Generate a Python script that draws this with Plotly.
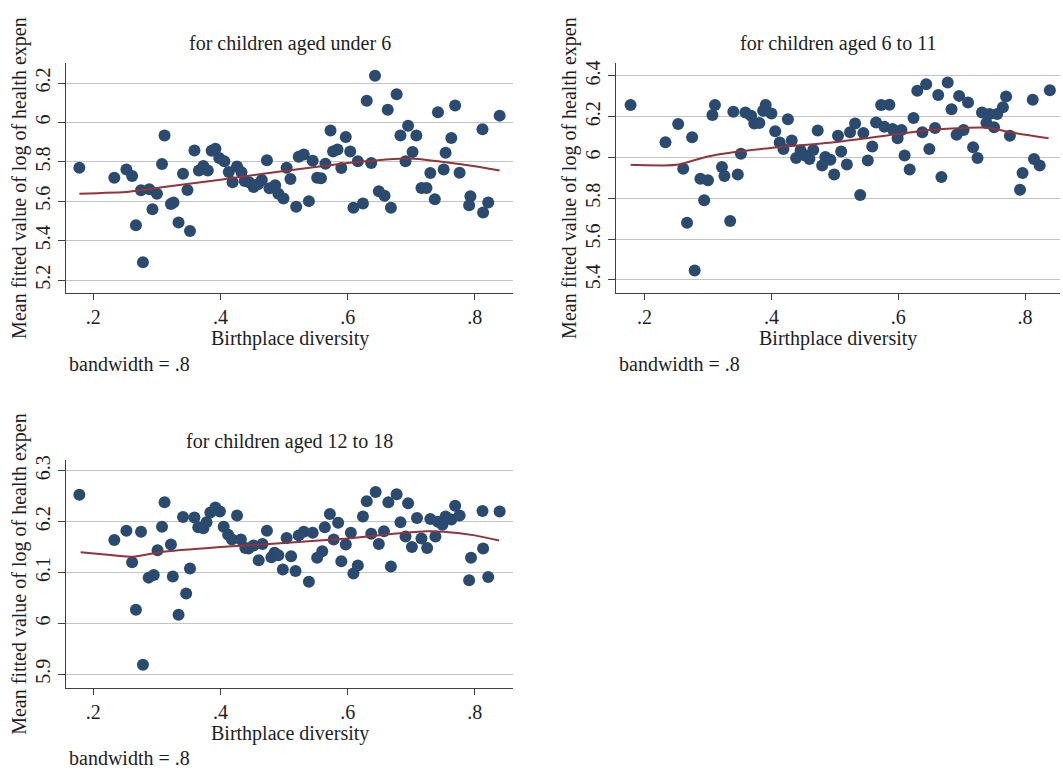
import plotly.graph_objects as go

# ---------------- data ----------------
x_under6 = [0.178, 0.233, 0.252, 0.261, 0.267, 0.275, 0.288, 0.278, 0.293, 0.300,
            0.308, 0.312, 0.322, 0.326, 0.334, 0.341, 0.348, 0.352, 0.359, 0.366,
            0.373, 0.380, 0.386, 0.392, 0.398, 0.406, 0.413, 0.419, 0.426, 0.433,
            0.438, 0.445, 0.452, 0.459, 0.465, 0.473, 0.477, 0.486, 0.491, 0.499,
            0.504, 0.510, 0.519, 0.523, 0.531, 0.539, 0.545, 0.552, 0.558, 0.565,
            0.573, 0.577, 0.584, 0.590, 0.597, 0.604, 0.609, 0.616, 0.624, 0.630,
            0.637, 0.643, 0.649, 0.658, 0.663, 0.668, 0.677, 0.683, 0.691, 0.695,
            0.702, 0.708, 0.716, 0.724, 0.730, 0.737, 0.742, 0.751, 0.754, 0.763,
            0.769, 0.776, 0.793, 0.791, 0.812, 0.813, 0.821, 0.839]
y_under6 = [5.771, 5.720, 5.762, 5.729, 5.479, 5.656, 5.661, 5.291, 5.560, 5.639,
            5.789, 5.934, 5.586, 5.594, 5.493, 5.740, 5.658, 5.449, 5.858, 5.757,
            5.779, 5.756, 5.857, 5.867, 5.820, 5.804, 5.749, 5.697, 5.777, 5.747,
            5.703, 5.697, 5.673, 5.687, 5.708, 5.808, 5.666, 5.681, 5.639, 5.614,
            5.771, 5.713, 5.572, 5.826, 5.838, 5.601, 5.806, 5.720, 5.717, 5.791,
            5.959, 5.853, 5.863, 5.769, 5.927, 5.853, 5.567, 5.803, 5.589, 6.111,
            5.794, 6.237, 5.651, 5.628, 6.065, 5.567, 6.143, 5.934, 5.803, 5.983,
            5.850, 5.934, 5.668, 5.668, 5.744, 5.611, 6.052, 5.762, 5.846, 5.921,
            6.086, 5.745, 5.626, 5.580, 5.966, 5.543, 5.594, 6.035]
lx_under6 = [0.178, 0.256, 0.305, 0.400, 0.500, 0.600, 0.672, 0.704, 0.751, 0.800, 0.839]
ly_under6 = [5.639, 5.649, 5.670, 5.710, 5.754, 5.794, 5.815, 5.816, 5.800, 5.778, 5.757]

x_6to11 = [0.178, 0.233, 0.253, 0.261, 0.275, 0.267, 0.279, 0.288, 0.300, 0.294,
           0.307, 0.311, 0.322, 0.326, 0.335, 0.340, 0.347, 0.352, 0.359, 0.368,
           0.373, 0.381, 0.387, 0.391, 0.400, 0.406, 0.413, 0.419, 0.426, 0.432,
           0.439, 0.446, 0.453, 0.460, 0.466, 0.473, 0.480, 0.485, 0.493, 0.499,
           0.505, 0.510, 0.519, 0.524, 0.532, 0.540, 0.545, 0.552, 0.559, 0.565,
           0.573, 0.578, 0.586, 0.591, 0.599, 0.605, 0.610, 0.618, 0.624, 0.630,
           0.638, 0.644, 0.649, 0.658, 0.663, 0.668, 0.678, 0.684, 0.692, 0.696,
           0.703, 0.710, 0.718, 0.725, 0.732, 0.739, 0.744, 0.751, 0.756, 0.765,
           0.770, 0.776, 0.792, 0.796, 0.812, 0.814, 0.823, 0.839]
y_6to11 = [6.257, 6.075, 6.164, 5.945, 6.099, 5.680, 5.446, 5.896, 5.888, 5.790,
           6.208, 6.257, 5.953, 5.909, 5.689, 6.224, 5.917, 6.018, 6.221, 6.205,
           6.167, 6.169, 6.229, 6.257, 6.216, 6.128, 6.073, 6.042, 6.187, 6.083,
           5.997, 6.034, 6.010, 5.993, 6.037, 6.132, 5.961, 6.002, 5.989, 5.917,
           6.107, 6.029, 5.966, 6.124, 6.167, 5.816, 6.120, 5.985, 6.054, 6.172,
           6.257, 6.151, 6.259, 6.140, 6.094, 6.135, 6.010, 5.941, 6.193, 6.327,
           6.124, 6.359, 6.042, 6.145, 6.306, 5.904, 6.367, 6.237, 6.111, 6.302,
           6.135, 6.270, 6.050, 5.998, 6.221, 6.169, 6.213, 6.148, 6.213, 6.246,
           6.299, 6.107, 5.842, 5.924, 6.283, 5.993, 5.961, 6.330]
lx_6to11 = [0.178, 0.230, 0.254, 0.298, 0.340, 0.400, 0.499, 0.600, 0.650, 0.703, 0.745, 0.776, 0.837]
ly_6to11 = [5.964, 5.961, 5.966, 6.004, 6.026, 6.047, 6.075, 6.115, 6.135, 6.145, 6.145, 6.124, 6.094]

x_12to18 = [0.178, 0.233, 0.252, 0.275, 0.261, 0.267, 0.278, 0.287, 0.295, 0.301,
            0.308, 0.312, 0.322, 0.325, 0.334, 0.341, 0.346, 0.352, 0.359, 0.365,
            0.373, 0.378, 0.384, 0.392, 0.399, 0.405, 0.412, 0.418, 0.426, 0.432,
            0.439, 0.444, 0.452, 0.460, 0.466, 0.473, 0.480, 0.485, 0.491, 0.498,
            0.504, 0.511, 0.518, 0.523, 0.531, 0.539, 0.545, 0.552, 0.560, 0.564,
            0.572, 0.578, 0.585, 0.590, 0.597, 0.605, 0.609, 0.616, 0.624, 0.630,
            0.637, 0.644, 0.649, 0.657, 0.664, 0.668, 0.677, 0.683, 0.691, 0.695,
            0.701, 0.709, 0.716, 0.725, 0.730, 0.738, 0.742, 0.749, 0.754, 0.763,
            0.769, 0.776, 0.791, 0.794, 0.812, 0.813, 0.821, 0.839]
y_12to18 = [6.253, 6.164, 6.182, 6.180, 6.120, 6.027, 5.919, 6.090, 6.095, 6.144,
            6.190, 6.238, 6.155, 6.092, 6.017, 6.209, 6.059, 6.108, 6.208, 6.189,
            6.187, 6.199, 6.218, 6.228, 6.220, 6.190, 6.174, 6.165, 6.212, 6.165,
            6.148, 6.147, 6.153, 6.124, 6.156, 6.182, 6.130, 6.139, 6.134, 6.106,
            6.168, 6.132, 6.103, 6.173, 6.180, 6.082, 6.178, 6.129, 6.142, 6.189,
            6.215, 6.165, 6.198, 6.122, 6.155, 6.178, 6.098, 6.114, 6.210, 6.240,
            6.176, 6.258, 6.156, 6.181, 6.238, 6.112, 6.254, 6.199, 6.171, 6.236,
            6.150, 6.207, 6.167, 6.148, 6.205, 6.171, 6.200, 6.194, 6.210, 6.204,
            6.231, 6.212, 6.085, 6.129, 6.221, 6.147, 6.091, 6.220]
lx_12to18 = [0.180, 0.231, 0.263, 0.305, 0.400, 0.500, 0.600, 0.672, 0.725, 0.751, 0.800, 0.838]
ly_12to18 = [6.140, 6.134, 6.131, 6.140, 6.150, 6.158, 6.167, 6.176, 6.181, 6.180, 6.173, 6.163]

titles = ["for children aged under 6", "for children aged 6 to 11", "for children aged 12 to 18"]
x_ticks = [0.2, 0.4, 0.6, 0.8]
x_ticklabels = [".2", ".4", ".6", ".8"]
y_ticks_under6 = [5.2, 5.4, 5.6, 5.8, 6.0, 6.2]
y_ticklabels_under6 = ["5.2", "5.4", "5.6", "5.8", "6", "6.2"]
y_ticks_6to11 = [5.4, 5.6, 5.8, 6.0, 6.2, 6.4]
y_ticklabels_6to11 = ["5.4", "5.6", "5.8", "6", "6.2", "6.4"]
y_ticks_12to18 = [5.9, 6.0, 6.1, 6.2, 6.3]
y_ticklabels_12to18 = ["5.9", "6", "6.1", "6.2", "6.3"]
x_title = "Birthplace diversity"
y_title = "Mean fitted value of log of health expen"
note = "bandwidth = .8"

# ---------------- styling / layout ----------------
W, H = 1063, 775
FONT = "Liberation Serif, Times New Roman, serif"
TXT = "#1e1e1e"
NAVY = "#2a4a6f"
MAROON = "#90353b"

# pixel boxes: (left, right, top, bottom)
boxes = [(66, 513, 58, 290), (616, 1060, 58, 290), (66, 513, 458, 687)]
xranges = [(0.157, 0.860), (0.155, 0.855), (0.157, 0.860)]
yranges = [(5.134, 6.304), (5.335, 6.465), (5.874, 6.321)]
yticks = [(y_ticks_under6, y_ticklabels_under6),
          (y_ticks_6to11, y_ticklabels_6to11),
          (y_ticks_12to18, y_ticklabels_12to18)]
series = [(x_under6, y_under6, lx_under6, ly_under6),
          (x_6to11, y_6to11, lx_6to11, ly_6to11),
          (x_12to18, y_12to18, lx_12to18, ly_12to18)]

fig = go.Figure()
annotations = []
layout_axes = {}

for i, (box, xr, yr, (yt, ytl), (sx, sy, lx, ly)) in enumerate(
        zip(boxes, xranges, yranges, yticks, series)):
    n = "" if i == 0 else str(i + 1)
    L, R, T, B = box
    fig.add_trace(go.Scatter(x=sx, y=sy, mode="markers",
                             marker=dict(color=NAVY, size=12, line=dict(width=0)),
                             xaxis="x" + n, yaxis="y" + n, showlegend=False,
                             hoverinfo="x+y"))
    fig.add_trace(go.Scatter(x=lx, y=ly, mode="lines",
                             line=dict(color=MAROON, width=2, shape="spline", smoothing=0.6),
                             xaxis="x" + n, yaxis="y" + n, showlegend=False))
    layout_axes["xaxis" + n] = dict(
        domain=[L / W, R / W], range=list(xr), anchor="y" + n,
        tickvals=x_ticks, ticktext=x_ticklabels, ticks="outside", ticklen=6,
        tickcolor="#404040", showline=True, linecolor="#404040", linewidth=1,
        showgrid=False, zeroline=False, tickfont=dict(family=FONT, size=20, color=TXT),
        fixedrange=True)
    layout_axes["yaxis" + n] = dict(
        domain=[1 - B / H, 1 - T / H], range=list(yr), anchor="x" + n,
        tickvals=yt, ticktext=ytl, ticks="outside", ticklen=7, tickangle=-90,
        tickcolor="#404040", showline=True, linecolor="#404040", linewidth=1,
        showgrid=True, gridcolor="#c4c4c4", gridwidth=1, zeroline=False,
        tickfont=dict(family=FONT, size=20, color=TXT), fixedrange=True)
    cx = (L + R) / 2
    f = dict(family=FONT, size=20, color=TXT)
    annotations += [
        dict(text=titles[i], x=cx / W, y=1 - (T - 19) / H, xref="paper", yref="paper",
             xanchor="center", yanchor="middle", showarrow=False, font=f),
        dict(text=x_title, x=cx / W, y=1 - (B + 46) / H, xref="paper", yref="paper",
             xanchor="center", yanchor="middle", showarrow=False, font=f),
        dict(text=note, x=(L + 1) / W, y=1 - (B + 71) / H, xref="paper", yref="paper",
             xanchor="left", yanchor="middle", showarrow=False, font=f),
        dict(text=y_title, x=(L - 46) / W, y=1 - ((T + B) / 2) / H, xref="paper", yref="paper",
             xanchor="center", yanchor="middle", textangle=-90, showarrow=False, font=f),
    ]

fig.update_layout(width=W, height=H, margin=dict(l=0, r=0, t=0, b=0),
                  paper_bgcolor="white", plot_bgcolor="white",
                  annotations=annotations, **layout_axes)

fig.write_html("out.html", config={"displayModeBar": False},
               post_script="document.body.style.margin='0';document.body.style.padding='0';"
                           "document.documentElement.style.overflow='hidden';")
